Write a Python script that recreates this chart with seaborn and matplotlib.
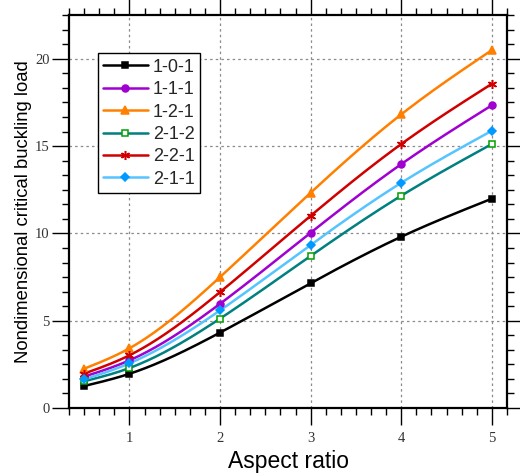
import numpy as np
import pandas as pd
import matplotlib
matplotlib.use("Agg")
import matplotlib.pyplot as plt
from matplotlib.lines import Line2D
from matplotlib.ticker import MultipleLocator
import seaborn as sns

# Aspect ratios at which the buckling load was computed
aspect_ratio = [0.5, 1, 2, 3, 4, 5]

# Nondimensional critical buckling load for each layup
load_101 = [1.26, 1.96, 4.32, 7.15, 9.81, 11.99]
load_111 = [1.80, 2.73, 5.97, 10.04, 13.97, 17.34]
load_121 = [2.25, 3.42, 7.50, 12.33, 16.82, 20.50]
load_212 = [1.53, 2.29, 5.12, 8.71, 12.16, 15.12]
load_221 = [1.97, 3.02, 6.64, 11.01, 15.12, 18.57]
load_211 = [1.64, 2.56, 5.59, 9.34, 12.90, 15.88]

series_names = ["1-0-1", "1-1-1", "1-2-1", "2-1-2", "2-2-1", "2-1-1"]
series_values = [load_101, load_111, load_121, load_212, load_221, load_211]
line_colors = ["#000000", "#a000d0", "#ff8000", "#008080", "#d00000", "#55c4ff"]
marker_colors = ["#000000", "#a000d0", "#ff8000", "#00a000", "#d00000", "#0099ff"]
marker_faces = ["#000000", "#a000d0", "#ff8000", "white", "#d00000", "#0099ff"]
marker_shapes = ["s", "o", "^", "s", (6, 2, 0), "D"]
marker_sizes = [4.5, 5, 5.5, 4.5, 6.5, 4.5]


def natural_spline(x, y, num=200):
    """Evaluate a natural cubic spline through (x, y) on a dense grid."""
    x = np.asarray(x, float)
    y = np.asarray(y, float)
    n = len(x)
    h = np.diff(x)
    A = np.zeros((n, n))
    b = np.zeros(n)
    A[0, 0] = A[-1, -1] = 1.0
    for i in range(1, n - 1):
        A[i, i - 1] = h[i - 1]
        A[i, i] = 2 * (h[i - 1] + h[i])
        A[i, i + 1] = h[i]
        b[i] = 6 * ((y[i + 1] - y[i]) / h[i] - (y[i] - y[i - 1]) / h[i - 1])
    m = np.linalg.solve(A, b)
    xs = np.linspace(x[0], x[-1], num)
    idx = np.clip(np.searchsorted(x, xs) - 1, 0, n - 2)
    x0, x1 = x[idx], x[idx + 1]
    hh = x1 - x0
    t0, t1 = x1 - xs, xs - x0
    ys = (m[idx] * t0 ** 3 + m[idx + 1] * t1 ** 3) / (6 * hh) \
        + (y[idx] / hh - m[idx] * hh / 6) * t0 \
        + (y[idx + 1] / hh - m[idx + 1] * hh / 6) * t1
    return xs, ys


sns.set_theme(style="white")
plt.rcParams["font.family"] = ["Liberation Sans", "DejaVu Sans"]

fig = plt.figure(figsize=(5.2, 4.74), dpi=100)
ax = fig.add_axes([0.1327, 0.1392, 0.975 - 0.1327, 0.968 - 0.1392])

handles = []
for name, vals, lc, mc, mf, mk, ms in zip(series_names, series_values, line_colors,
                                          marker_colors, marker_faces,
                                          marker_shapes, marker_sizes):
    xs, ys = natural_spline(aspect_ratio, vals)
    curve = pd.DataFrame({"x": xs, "y": ys})
    sns.lineplot(data=curve, x="x", y="y", ax=ax, color=lc, linewidth=1.8,
                 sort=False, legend=False, zorder=3)
    pts = pd.DataFrame({"x": aspect_ratio, "y": vals})
    ax.plot(pts["x"], pts["y"], linestyle="none", marker=mk, markersize=ms,
            markerfacecolor=mf, markeredgecolor=mc, markeredgewidth=1.1,
            zorder=4)
    handles.append(Line2D([], [], color=lc, linewidth=1.8, marker=mk,
                          markersize=ms, markerfacecolor=mf,
                          markeredgecolor=mc, markeredgewidth=1.1))

ax.set_xlim(1 / 3, 5 + 1 / 6)
ax.set_ylim(0, 22.5)
ax.xaxis.set_major_locator(MultipleLocator(1))
ax.xaxis.set_minor_locator(MultipleLocator(1 / 6))
ax.yaxis.set_major_locator(MultipleLocator(5))
ax.yaxis.set_minor_locator(MultipleLocator(5 / 6))

ax.grid(True, which="major", color="#8a8a8a", linestyle=(0, (2, 2.5)),
        linewidth=0.9)

for side in ax.spines.values():
    side.set_color("black")
    side.set_linewidth(1.6)

ax.tick_params(which="both", direction="out", top=True, right=True,
               bottom=True, left=True, labeltop=False, labelright=False,
               color="black", width=1.0)
ax.tick_params(which="major", length=12)
ax.tick_params(which="minor", length=5)
ax.tick_params(axis="x", which="major", pad=5)
ax.tick_params(axis="y", which="major", pad=2)
for lab in ax.get_xticklabels() + ax.get_yticklabels():
    lab.set_fontfamily(["Liberation Serif", "DejaVu Serif"])
    lab.set_fontsize(10.5)
    lab.set_color("#333333")

ax.set_xlabel("Aspect ratio", fontsize=16.5, color="black", labelpad=4)
ax.set_ylabel("Nondimensional critical buckling load", fontsize=13.3,
              color="black", labelpad=2)

leg = ax.legend(handles, series_names, loc="upper left",
                bbox_to_anchor=(0.066, 0.903), borderaxespad=0,
                fontsize=13, frameon=True, fancybox=False, framealpha=1,
                edgecolor="black", handlelength=2.45, handletextpad=0.3,
                labelspacing=0.3, borderpad=0.3)
leg.get_frame().set_linewidth(1.0)

fig.savefig("out.png", dpi=100)
